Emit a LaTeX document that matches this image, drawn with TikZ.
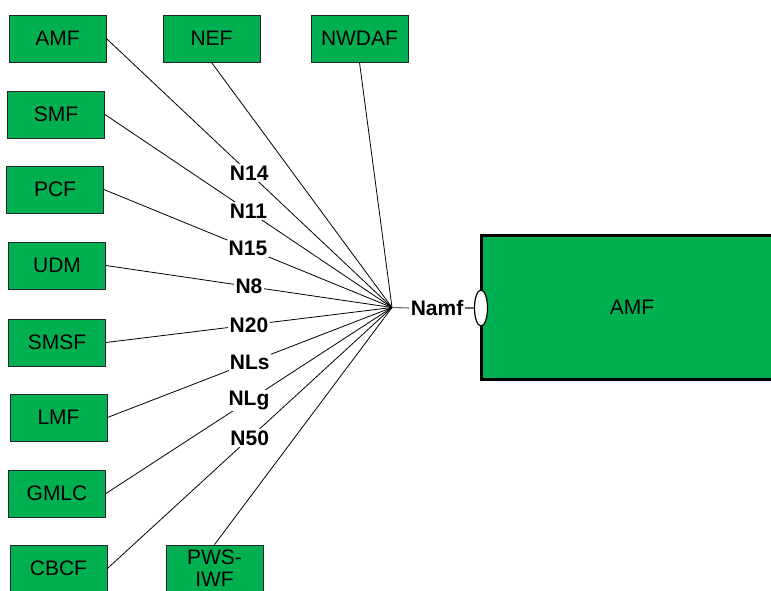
\documentclass[tikz,border=0pt]{standalone}
\usepackage{fontspec}
\setmainfont{Liberation Sans}
\usetikzlibrary{shapes.geometric}
\definecolor{nfgreen}{RGB}{0,176,80}
\begin{document}
\begin{tikzpicture}[x=0.75pt,y=-0.75pt,
  nf/.style={draw=black!85, line width=0.6pt, fill=nfgreen, minimum width=72.75pt, minimum height=35.25pt, inner sep=0pt, font=\fontsize{15.75}{16.5}\selectfont, align=center},
  ref/.style={fill=white, inner sep=1pt, font=\fontsize{15.75}{16.5}\selectfont\bfseries},
  link/.style={draw=black, line width=0.6pt}]
\useasboundingbox (0,0) rectangle (771,590);
\clip (0,0) rectangle (771,590);
\node[nf] (amf) at (57.5,38.5) {AMF};
\node[nf] (nef) at (211.5,38.5) {NEF};
\node[nf] (nwdaf) at (359.5,38.5) {NWDAF};
\node[nf] (smf) at (56,114.5) {SMF};
\node[nf] (pcf) at (55,189.5) {PCF};
\node[nf] (udm) at (57,265.5) {UDM};
\node[nf] (smsf) at (57,342.5) {SMSF};
\node[nf] (lmf) at (58.5,417.5) {LMF};
\node[nf] (gmlc) at (57,493.5) {GMLC};
\node[nf] (cbcf) at (58.5,568.5) {CBCF};
\node[nf] (pws) at (214.5,568.5) {PWS-\\IWF};
\coordinate (hub) at (392,307.5);
\node[fill=nfgreen, minimum width=240pt, minimum height=107.25pt, inner sep=0pt] (big) at (642,307.5) {};
\draw[line width=2.25pt] (big.north east) -- (big.north west) -- (big.south west) -- (big.south east);
\node[font=\fontsize{15.75}{16.5}\selectfont] (bigtxt) at (632,307.5) {AMF};
\node[ref] (namf) at (437,308) {Namf};
\node[draw=black, line width=0.9pt, fill=white, ellipse, minimum width=9.75pt, minimum height=27pt, inner sep=0pt] (ell) at (481,308) {};
\draw[link] (amf.east) -- node[ref]{N14} (hub);
\draw[link] (smf.east) -- node[ref]{N11} (hub);
\draw[link] (pcf.east) -- node[ref]{N15} (hub);
\draw[link] (udm.east) -- node[ref]{N8} (hub);
\draw[link] (smsf.east) -- node[ref]{N20} (hub);
\draw[link] (lmf.east) -- node[ref]{NLs} (hub);
\draw[link] (gmlc.east) -- node[ref]{NLg} (hub);
\draw[link] (cbcf.east) -- node[ref]{N50} (hub);
\draw[link] (nef.south) -- (hub);
\draw[link] (nwdaf.south) -- (hub);
\draw[link] (pws.north) -- (hub);
\draw[draw=black!60, line width=0.8pt] (hub) -- (namf.west);
\draw[draw=black!60, line width=0.8pt] (namf.east) -- (ell.west);
\end{tikzpicture}
\end{document}
